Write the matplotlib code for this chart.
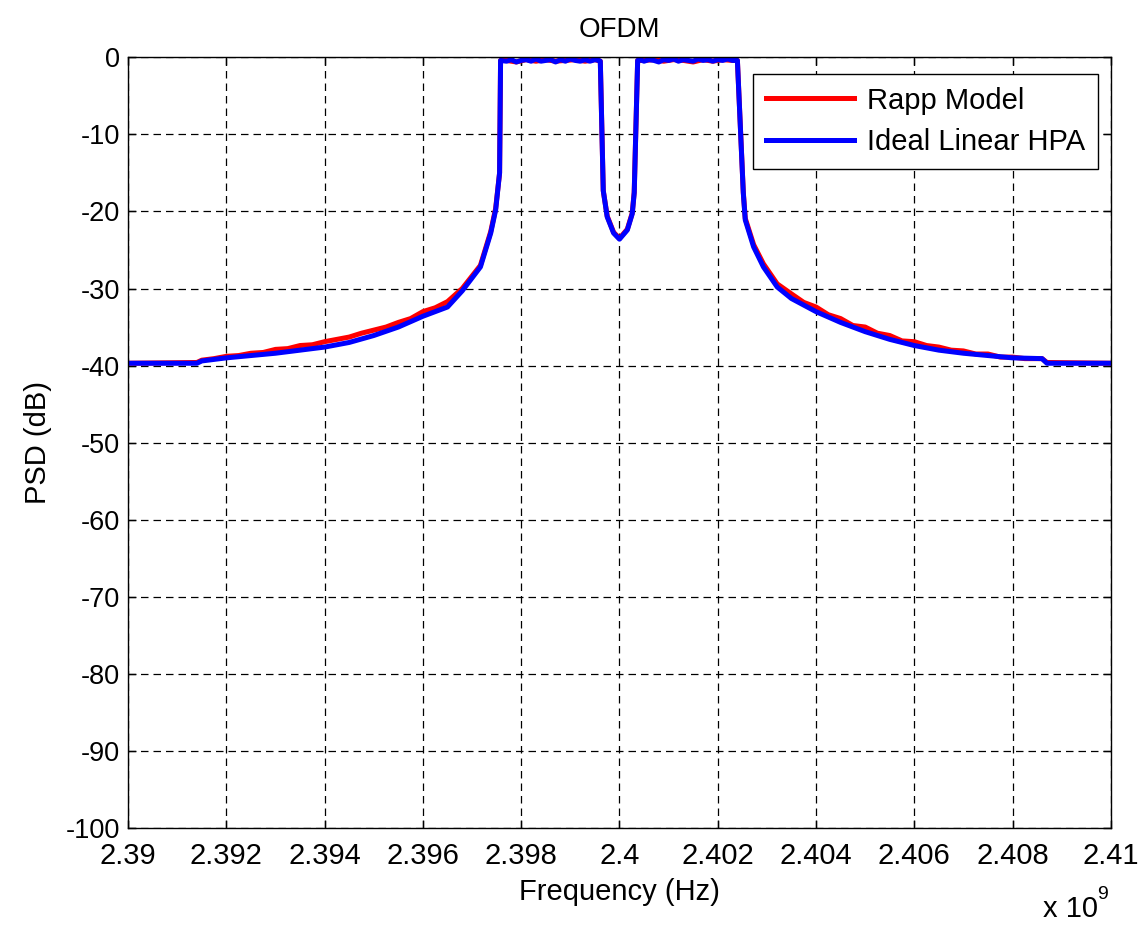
import numpy as np
import matplotlib
matplotlib.use("Agg")
import matplotlib.pyplot as plt

# -------------------------------
# data (frequency offsets in MHz around 2.4 GHz, PSD in dB)
# -------------------------------
f_center = 2.4e9

blue_off = [-10.0, -8.6, -8.5, -8.0, -7.5, -7.0, -6.5, -6.0, -5.5, -5.0, -4.5, -4.0,
            -3.5, -3.2, -2.83, -2.62, -2.52, -2.44, -2.42,
            -2.3, -2.2, -2.1, -2.0, -1.9, -1.8, -1.7, -1.6, -1.5, -1.4, -1.3, -1.2,
            -1.1, -1.0, -0.9, -0.8, -0.7, -0.6, -0.5, -0.42, -0.39,
            -0.33, -0.25, -0.12, 0.0, 0.16, 0.26, 0.30, 0.37,
            0.42, 0.5, 0.6, 0.7, 0.8, 0.9, 1.0, 1.1, 1.2, 1.3, 1.4, 1.5, 1.6, 1.7,
            1.8, 1.9, 2.0, 2.1, 2.2, 2.3, 2.4,
            2.52, 2.56, 2.73, 2.93, 3.21, 3.5, 4.0, 4.5, 5.0, 5.5, 6.0, 6.5, 7.0,
            7.5, 8.0, 8.6, 8.7, 10.0]
blue_psd = [-39.7, -39.7, -39.4, -39.0, -38.7, -38.4, -38.0, -37.6, -37.0, -36.1, -35.0, -33.6,
            -32.4, -30.3, -27.2, -22.8, -19.8, -15.0, -0.4,
            -0.5, -0.3, -0.6, -0.4, -0.3, -0.5, -0.2, -0.5, -0.4, -0.3, -0.6, -0.3,
            -0.5, -0.2, -0.4, -0.5, -0.3, -0.5, -0.3, -0.4, -0.5,
            -17.3, -20.7, -22.8, -23.6, -22.4, -20.3, -17.6, -0.4,
            -0.3, -0.5, -0.3, -0.4, -0.6, -0.3, -0.4, -0.2, -0.5, -0.3, -0.4, -0.5, -0.2, -0.4,
            -0.3, -0.5, -0.3, -0.4, -0.2, -0.4, -0.4,
            -17.6, -21.1, -24.6, -27.2, -29.8, -31.3, -33.0, -34.4, -35.6, -36.6, -37.4, -38.0, -38.4,
            -38.7, -39.0, -39.1, -39.7, -39.7]

red_off = [-10.0, -8.6, -8.5, -8.25, -8.0, -7.75, -7.5, -7.25, -7.0, -6.75, -6.5, -6.25,
           -6.0, -5.75, -5.5, -5.25, -5.0, -4.75, -4.5, -4.25, -4.0, -3.75,
           -3.5, -3.2, -2.83, -2.62, -2.52, -2.44, -2.42,
           -2.3, -2.1, -1.9, -1.7, -1.5, -1.3, -1.1, -0.9, -0.7, -0.5, -0.39,
           -0.33, -0.25, -0.12, 0.0, 0.16, 0.26, 0.30, 0.37,
           0.5, 0.7, 0.9, 1.1, 1.3, 1.5, 1.7, 1.9, 2.1, 2.3, 2.4,
           2.52, 2.56, 2.73, 2.93, 3.21, 3.5, 3.75, 4.0, 4.25, 4.5, 4.75, 5.0,
           5.25, 5.5, 5.75, 6.0, 6.25, 6.5, 6.75, 7.0, 7.25, 7.5, 7.75, 8.0,
           8.25, 8.6, 8.7, 10.0]
red_psd = [-39.7, -39.6, -39.3, -39.1, -38.8, -38.7, -38.4, -38.3, -37.9, -37.8, -37.4, -37.3,
           -36.9, -36.6, -36.3, -35.8, -35.4, -35.0, -34.4, -33.9, -33.0, -32.5,
           -31.7, -30.0, -27.0, -22.6, -19.6, -15.0, -0.4,
           -0.4, -0.6, -0.3, -0.5, -0.3, -0.5, -0.4, -0.3, -0.5, -0.3, -0.5,
           -17.3, -20.6, -22.7, -23.5, -22.3, -20.2, -17.5, -0.4,
           -0.4, -0.3, -0.5, -0.3, -0.4, -0.6, -0.3, -0.5, -0.3, -0.4, -0.4,
           -17.5, -20.9, -24.3, -26.8, -29.4, -30.7, -31.8, -32.4, -33.4, -33.9, -34.8, -35.0,
           -35.8, -36.1, -36.8, -36.9, -37.4, -37.6, -38.0, -38.1, -38.5, -38.5, -38.9, -38.9,
           -39.1, -39.1, -39.6, -39.7]

x_ticks_ghz = [2.39, 2.392, 2.394, 2.396, 2.398, 2.4, 2.402, 2.404, 2.406, 2.408, 2.41]
y_ticks = [0, -10, -20, -30, -40, -50, -60, -70, -80, -90, -100]

blue_f = f_center + np.array(blue_off) * 1e6
red_f = f_center + np.array(red_off) * 1e6

# -------------------------------
# plot
# -------------------------------
plt.rcParams['font.family'] = ['Liberation Sans', 'DejaVu Sans']
plt.rcParams['axes.unicode_minus'] = False

fig = plt.figure(figsize=(11.44, 9.25), dpi=100)
ax = fig.add_axes([0.112, 0.105, 0.859, 0.833])

ax.plot(red_f, red_psd, color='#ff0000', lw=3.6, label='Rapp Model')
ax.plot(blue_f, blue_psd, color='#0000ff', lw=3.6, label='Ideal Linear HPA')

ax.set_xlim(2.39e9, 2.41e9)
ax.set_ylim(-100, 0)
ax.set_xticks([t * 1e9 for t in x_ticks_ghz])
ax.set_xticklabels(['%g' % t for t in x_ticks_ghz])
ax.set_yticks(y_ticks)
ax.set_yticklabels([str(v) for v in y_ticks])
ax.tick_params(direction='in', top=True, right=True, length=6, width=1)
ax.tick_params(axis='x', labelsize=21, pad=10)
ax.tick_params(axis='y', labelsize=19.5, pad=6)

ax.grid(True, color='black', linestyle=(0, (6, 4)), linewidth=0.9)
for s in ax.spines.values():
    s.set_linewidth(1.0)

ax.set_title('OFDM', fontsize=20, pad=15)
ax.set_xlabel('Frequency (Hz)', fontsize=21, labelpad=6)
ax.set_ylabel('PSD (dB)', fontsize=21, labelpad=10)

leg = ax.legend(loc='upper right', bbox_to_anchor=(0.987, 0.979), borderaxespad=0,
                fontsize=21, fancybox=False, framealpha=1, edgecolor='black',
                handlelength=3.0, handletextpad=0.45, borderpad=0.45, labelspacing=0.45)
leg.get_frame().set_linewidth(1.0)

fig.text(1043 / 1144, 1 - 917 / 925, 'x 10', fontsize=21, ha='left', va='baseline')
fig.text(1097 / 1144, 1 - 899 / 925, '9', fontsize=14, ha='left', va='baseline')

fig.savefig('out.png', dpi=100)
